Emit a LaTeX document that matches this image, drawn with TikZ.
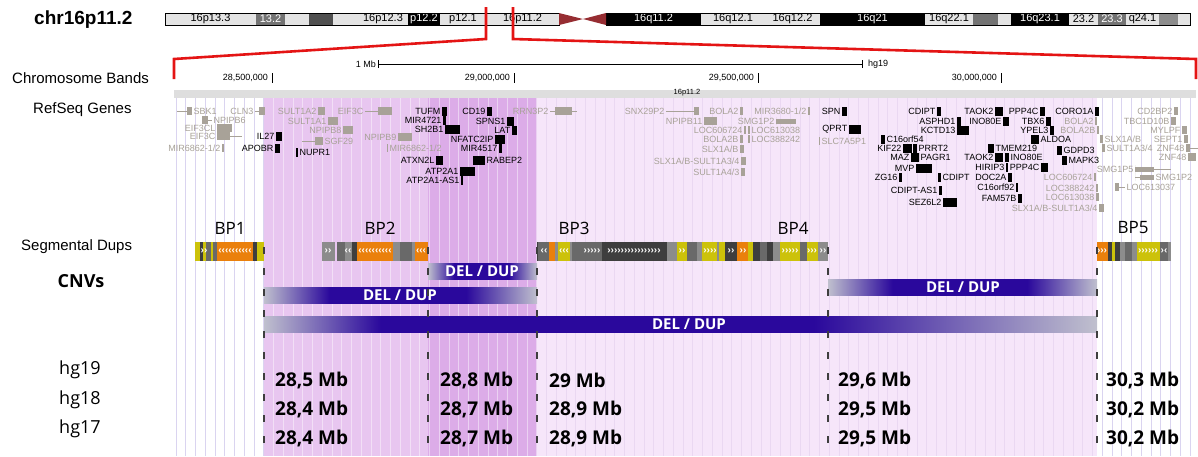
\documentclass[tikz,border=0pt]{standalone}
\usepackage{fontspec}
\setmainfont{Liberation Sans}
\newfontfamily\osans{Open Sans}
\usepackage{tikz}
\usetikzlibrary{positioning}

\definecolor{bandl}{RGB}{228,228,228}
\definecolor{bandg}{RGB}{115,115,115}
\definecolor{bandd}{RGB}{80,80,80}
\definecolor{cenred}{RGB}{150,45,50}
\definecolor{zoomred}{RGB}{228,20,20}
\definecolor{trackgray}{RGB}{222,222,222}
\definecolor{bp12}{RGB}{232,198,240}
\definecolor{bp23}{RGB}{220,172,232}
\definecolor{bp35}{RGB}{246,230,250}
\definecolor{gridlav}{RGB}{218,212,240}
\definecolor{gridpink}{RGB}{234,216,242}
\definecolor{genegray}{RGB}{168,162,152}
\definecolor{sdyellow}{RGB}{204,194,10}
\definecolor{sdorange}{RGB}{234,128,12}
\definecolor{sddark}{RGB}{62,62,62}
\definecolor{sdgray}{RGB}{105,105,105}
\definecolor{sdlight}{RGB}{140,140,140}
\definecolor{cnvblue}{RGB}{42,8,156}
\definecolor{cnvgray}{RGB}{192,192,206}

% shadings for the CNV bars (inner part 25bp..75bp covers the bar)
\pgfdeclarehorizontalshading{cnvbar}{100bp}{color(0bp)=(cnvgray); color(25bp)=(cnvgray);
  color(37bp)=(cnvblue); color(62bp)=(cnvblue); color(75bp)=(cnvgray); color(100bp)=(cnvgray)}
\pgfdeclarehorizontalshading{cnvlong}{100bp}{color(0bp)=(cnvgray); color(25bp)=(cnvgray);
  color(32bp)=(cnvblue); color(58bp)=(cnvblue); color(75bp)=(cnvgray); color(100bp)=(cnvgray)}

\begin{document}
\begin{tikzpicture}[
    x=1pt, y=-1pt,
    bandtxt/.style={font=\fontsize{11}{11}\selectfont, inner sep=0pt},
    lbl/.style={font=\fontsize{15}{15}\selectfont, anchor=west, inner sep=0pt},
    small/.style={font=\fontsize{9}{9}\selectfont, inner sep=0pt},
    genetxt/.style={font=\fontsize{9}{9}\selectfont, inner sep=0pt},
    bplbl/.style={font=\osans\fontsize{17}{17}\selectfont, inner sep=0pt},
    cnvtxt/.style={font=\osans\bfseries\fontsize{15}{15}\selectfont, text=white, inner sep=0pt},
    mbtxt/.style={font=\osans\bfseries\fontsize{19}{19}\selectfont, anchor=west, inner sep=0pt},
    hgtxt/.style={font=\osans\fontsize{18}{18}\selectfont, anchor=west, inner sep=0pt},
    chev/.style={font=\bfseries\fontsize{10}{10}\selectfont, text=white, inner sep=0pt},
    bpline/.style={sddark, line width=1.2pt, dash pattern=on 7pt off 14pt},
    zoomline/.style={zoomred, line width=2.6pt}
]
    \useasboundingbox (0,0) rectangle (1198,456);
    \fill[white] (0,0) rectangle (1198,456);

    % shaded regions and grid
    \fill[bp12] (264,98) rectangle (428,456);
    \fill[bp23] (428,98) rectangle (537,456);
    \fill[bp35] (537,98) rectangle (1097,456);
    \begin{scope}
        \clip (174,98) rectangle (264,456) (1097,98) rectangle (1196,456);
        \foreach \i in {0,...,104}
            \draw[gridlav, line width=0.7pt] (176+9.75*\i,98) -- (176+9.75*\i,456);
    \end{scope}
    \begin{scope}
        \clip (264,98) rectangle (537,456);
        \foreach \i in {0,...,104}
            \draw[white, opacity=0.45, line width=0.7pt] (176+9.75*\i,98) -- (176+9.75*\i,456);
    \end{scope}
    \begin{scope}
        \clip (537,98) rectangle (1097,456);
        \foreach \i in {0,...,104}
            \draw[gridpink, line width=0.7pt] (176+9.75*\i,98) -- (176+9.75*\i,456);
    \end{scope}

    % ideogram
    \node[font=\bfseries\fontsize{19}{19}\selectfont, anchor=west, inner sep=0pt] (chr) at (34,20) {chr16p11.2};
    \foreach \a/\b/\f/\t/\c in {165/256/bandl/16p13.3/black, 256/285/bandg/13.2/white,
        285/309/bandl//black, 309/333/bandd//white, 333/358/bandl//black,
        358/408/bandl/16p12.3/black, 408/440/black/p12.2/white, 440/486/bandl/p12.1/black,
        486/559/bandl/16p11.2/black, 606/701/black/16q11.2/white, 701/765/bandl/16q12.1/black,
        765/820/bandl/16q12.2/black, 820/925/black/16q21/white, 925/973/bandl/16q22.1/black,
        973/998/bandg//white, 998/1011/bandl//black, 1011/1069/black/16q23.1/white,
        1069/1098/bandl/23.2/black, 1098/1126/bandg/23.3/white, 1126/1159/bandl/q24.1/black,
        1159/1178/sdlight//black, 1178/1190/bandl//black}
    {
        \fill[\f] (\a,13) rectangle (\b,25);
        \node[bandtxt, text=\c] at ({(\a+\b)/2},19) {\t};
    }
    \draw[line width=0.6pt] (165,13) rectangle (559,25);
    \draw[line width=0.6pt] (606,13) rectangle (1190,25);
    \fill[cenred] (559,13) -- (583,19) -- (559,25) -- cycle;
    \fill[cenred] (606,13) -- (583,19) -- (606,25) -- cycle;

    % zoom lines
    \draw[zoomline] (486,7) -- (486,39) -- (174,59) -- (174,79);
    \draw[zoomline] (513,7) -- (513,39) -- (1196,59) -- (1196,79);

    % scale and positions
    \node[small, anchor=east] (onemb) at (376,64) {1 Mb};
    \draw[line width=0.6pt] (378,60) -- (378,68) (378,64) -- (862,64) (862,60) -- (862,68);
    \node[small, anchor=west] (hgscale) at (868,64) {hg19};
    \foreach \x/\t in {272/{28,500,000}, 514/{29,000,000}, 758/{29,500,000}, 1001/{30,000,000}} {
        \node[small, anchor=east] at (\x-4,78) {\t};
        \draw[line width=0.6pt] (\x,73) -- (\x,83);
    }
    \fill[trackgray] (174,90) rectangle (1196,98);
    \node[font=\fontsize{7.5}{7.5}\selectfont, inner sep=0pt] (band) at (687,93) {16p11.2};

    % track labels
    \node[lbl] (bands) at (12,78) {Chromosome Bands};
    \node[lbl] (refseq) at (33,110) {RefSeq Genes};
    \node[lbl] (segdup) at (21,247) {Segmental Dups};
    \node[font=\osans\bfseries\fontsize{18}{18}\selectfont, inner sep=0pt] (cnvs) at (81,281) {CNVs};

    % RefSeq genes, gray
    \foreach \s/\a/\b/\p/\q/\y/\t in {R/177/192/187/192/111/SBK1, L/255/265/259/265/111/CLN3,
        L/318/325/318/325/111/SULT1A2, L/365/392/378/392/111/EIF3C, L/550/577/555/572/111/RRN3P2,
        R/202/212/202/208/120/NPIPB6, L/328/338/328/338/121/SULT1A1, L/217/232/217/232/128/EIF3CL,
        L/343/353/343/353/130/NPIPB8, L/217/242/217/230/136/EIF3C, R/302/323/315/323/141/SGF29,
        L/398/412/398/412/137/NPIPB9, L/222/224/222/224/148/{MIR6862-1/2},
        R/387/388/387/388/148/{MIR6862-1/2}, L/666/699/694/699/111/SNX29P2,
        L/740/743/740/743/111/BOLA2, L/808/810/808/810/111/{MIR3680-1/2},
        L/704/717/704/717/121/NPIPB11, L/776/796/776/776/121/SMG1P2,
        L/744/746/744/746/130/LOC606724, R/748/750/748/750/130/LOC613038,
        L/740/743/740/743/139/BOLA2B, R/748/750/748/750/139/LOC388242,
        R/819/820/819/820/141/SLC7A5P1, L/740/744/740/744/149/{SLX1A/B},
        L/741/746/741/746/161/{SLX1A/B-SULT1A3/4}, L/741/745/741/745/172/{SULT1A4/3},
        L/1095/1097/1095/1097/121/BOLA2, L/1097/1099/1097/1099/130/BOLA2B,
        R/1100/1103/1100/1103/139/{SLX1A/B}, R/1102/1105/1102/1105/148/{SULT1A3/4},
        L/1135/1171/1135/1135/169/SMG1P5, L/1094/1096/1094/1096/177/LOC606724,
        R/1135/1154/1135/1135/177/SMG1P2, L/1096/1098/1096/1098/188/LOC388242,
        R/1115/1125/1115/1119/187/LOC613037, L/1096/1099/1096/1099/197/LOC613038,
        L/1099/1104/1099/1104/208/{SLX1A/B-SULT1A3/4}, L/1174/1178/1174/1178/111/CD2BP2,
        L/1171/1176/1171/1176/121/TBC1D10B, L/1182/1187/1182/1187/130/MYLPF,
        L/1184/1188/1184/1188/139/SEPT1, L/1186/1198/1186/1190/148/ZNF48,
        L/1188/1196/1188/1196/157/ZNF48} {
        \draw[genegray, line width=0.8pt] (\a,\y) -- (\b,\y);
        \fill[genegray] (\p,\y-4) rectangle (\q,\y+4);
        \if\s L
            \node[genetxt, text=genegray, anchor=east] at (\a-1.5,\y) {\t};
        \else
            \node[genetxt, text=genegray, anchor=west] at (\b+1.5,\y) {\t};
        \fi
    }
    % flat gray gene bars
    \fill[genegray] (776,118.5) rectangle (796,123.5);
    \fill[genegray] (1135,166.5) rectangle (1154,171.5);
    \fill[genegray] (1140,174.5) rectangle (1154,179.5);

    % RefSeq genes, black
    \foreach \s/\a/\b/\y/\t in {L/276/282/136/IL27, L/275/280/148/APOBR, R/296/298/152/NUPR1,
        L/442/447/111/TUFM, L/443/446/120/MIR4721, L/445/460/129/SH2B1, L/436/443/160/ATXN2L,
        L/460/475/171/ATP2A1, L/461/463/180/ATP2A1-AS1, L/487/492/111/CD19, L/507/514/121/SPNS1,
        L/512/517/130/LAT, L/495/505/139/NFATC2IP, L/499/502/148/MIR4517, R/473/485/160/RABEP2,
        L/842/847/111/SPN, L/849/861/129/QPRT, L/937/941/111/CDIPT, L/957/961/121/ASPHD1,
        L/957/969/130/KCTD13, R/881/885/139/C16orf54, L/903/912/148/KIF22, R/913/917/148/PRRT2,
        L/911/919/157/MAZ, R/919/919/157/PAGR1, L/916/932/168/MVP, L/899/902/177/ZG16,
        R/938/941/177/CDIPT, L/939/942/190/CDIPT-AS1, L/943/957/202/SEZ6L2,
        L/995/1003/111/TAOK2, L/1003/1009/121/INO80E, L/1040/1045/111/PPP4C,
        L/1046/1051/121/TBX6, L/1050/1054/130/YPEL3, L/1095/1099/111/CORO1A,
        R/1031/1039/139/ALDOA, R/988/994/148/TMEM219, R/1057/1062/150/GDPD3,
        L/995/1003/157/TAOK2, R/1005/1009/157/INO80E, R/1062/1067/160/MAPK3,
        L/1006/1008/167/HIRIP3, L/1041/1048/167/PPP4C, L/1008/1012/177/DOC2A,
        L/1016/1018/187/C16orf92, L/1018/1022/198/FAM57B} {
        \fill (\a,\y-4.5) rectangle (\b,\y+4.5);
        \if\s L
            \node[genetxt, anchor=east] at (\a-1.5,\y) {\t};
        \else
            \node[genetxt, anchor=west] at (\b+1.5,\y) {\t};
        \fi
    }

    % segmental dups
    \foreach \a/\b/\c in {195/200/sdyellow, 200/203/sddark, 203/206/sdyellow, 206/211/sdgray,
        211/213/sdyellow, 213/217/sdgray, 217/253/sdorange, 253/257/sddark, 257/264/sdyellow,
        322/335/sdlight, 337/345/sdgray, 345/352/sdlight, 352/357/sddark, 357/393/sdorange,
        393/400/sdlight, 400/412/sdgray, 412/415/sdlight, 415/428/sdorange,
        537/538/sddark, 538/549/sdgray, 549/555/sdorange, 555/558/sdlight, 558/570/sdyellow,
        570/572/sdlight, 572/582/sdgray, 582/602/sdgray, 602/667/sddark, 667/677/sdlight,
        677/687/sdyellow, 687/697/sdgray, 697/702/sdlight, 702/717/sdyellow, 717/719/sdlight,
        719/725/sdyellow, 725/737/sddark, 737/748/sdorange, 748/753/sdyellow, 753/760/sddark,
        760/767/sdgray, 767/773/sddark, 773/780/sdlight, 780/800/sdyellow, 800/807/sdgray,
        807/818/sdyellow, 818/828/sdlight,
        1097/1108/sdorange, 1108/1112/sddark, 1112/1115/sdyellow, 1115/1120/sddark,
        1120/1125/sdlight, 1125/1132/sdgray, 1132/1137/sdlight, 1137/1160/sdyellow,
        1160/1168/sdgray, 1168/1171/sdlight}
        \fill[\c] (\a,242) rectangle (\b,261);
    \foreach \x/\t in {204/››, 235/‹‹‹‹‹‹‹‹‹‹, 328/››, 348/‹‹, 375/‹‹‹‹‹‹‹‹‹‹, 421/‹‹‹,
        544/‹‹, 564/‹‹‹, 592/›››››, 634/››››››››››››››››, 682/››, 710/››››, 731/››,
        743/››, 790/›››››, 812/›››, 823/››, 1102/›››, 1148/››››››, 1164/›‹}
        \node[chev] at (\x,251.5) {\t};

    \node[bplbl] (bp1) at (230,228) {BP1};
    \node[bplbl] (bp2) at (380,228) {BP2};
    \node[bplbl] (bp3) at (574,228) {BP3};
    \node[bplbl] (bp4) at (793,228) {BP4};
    \node[bplbl] (bp5) at (1133,228) {BP5};

    % CNV bars
    \shade[shading=cnvbar] (428,263) rectangle (537,279);
    \node[cnvtxt] (cnv23) at (482,271) {DEL / DUP};
    \shade[shading=cnvbar] (264,287) rectangle (537,303);
    \node[cnvtxt] (cnv13) at (400,295) {DEL / DUP};
    \shade[shading=cnvbar] (828,279) rectangle (1097,295);
    \node[cnvtxt] (cnv45) at (963,287) {DEL / DUP};
    \shade[shading=cnvlong] (264,316) rectangle (1097,332);
    \node[cnvtxt] (cnv15) at (689,324) {DEL / DUP};

    \foreach \x in {264,428,537,828,1097}
        \draw[bpline] (\x,247) -- (\x,456);

    % assembly positions
    \node[hgtxt] (hg19) at (59,370) {hg19};
    \node[hgtxt] (hg18) at (59,400) {hg18};
    \node[hgtxt] (hg17) at (59,429) {hg17};
    \foreach \x/\a/\b/\c in {275/{28,5}/{28,4}/{28,4}, 440/{28,8}/{28,7}/{28,7},
        549/{29}/{28,9}/{28,9}, 838/{29,6}/{29,5}/{29,5}, 1106/{30,3}/{30,2}/{30,2}} {
        \node[mbtxt] at (\x,380) {\a\ Mb};
        \node[mbtxt] at (\x,409) {\b\ Mb};
        \node[mbtxt] at (\x,438) {\c\ Mb};
    }
\end{tikzpicture}
\end{document}
